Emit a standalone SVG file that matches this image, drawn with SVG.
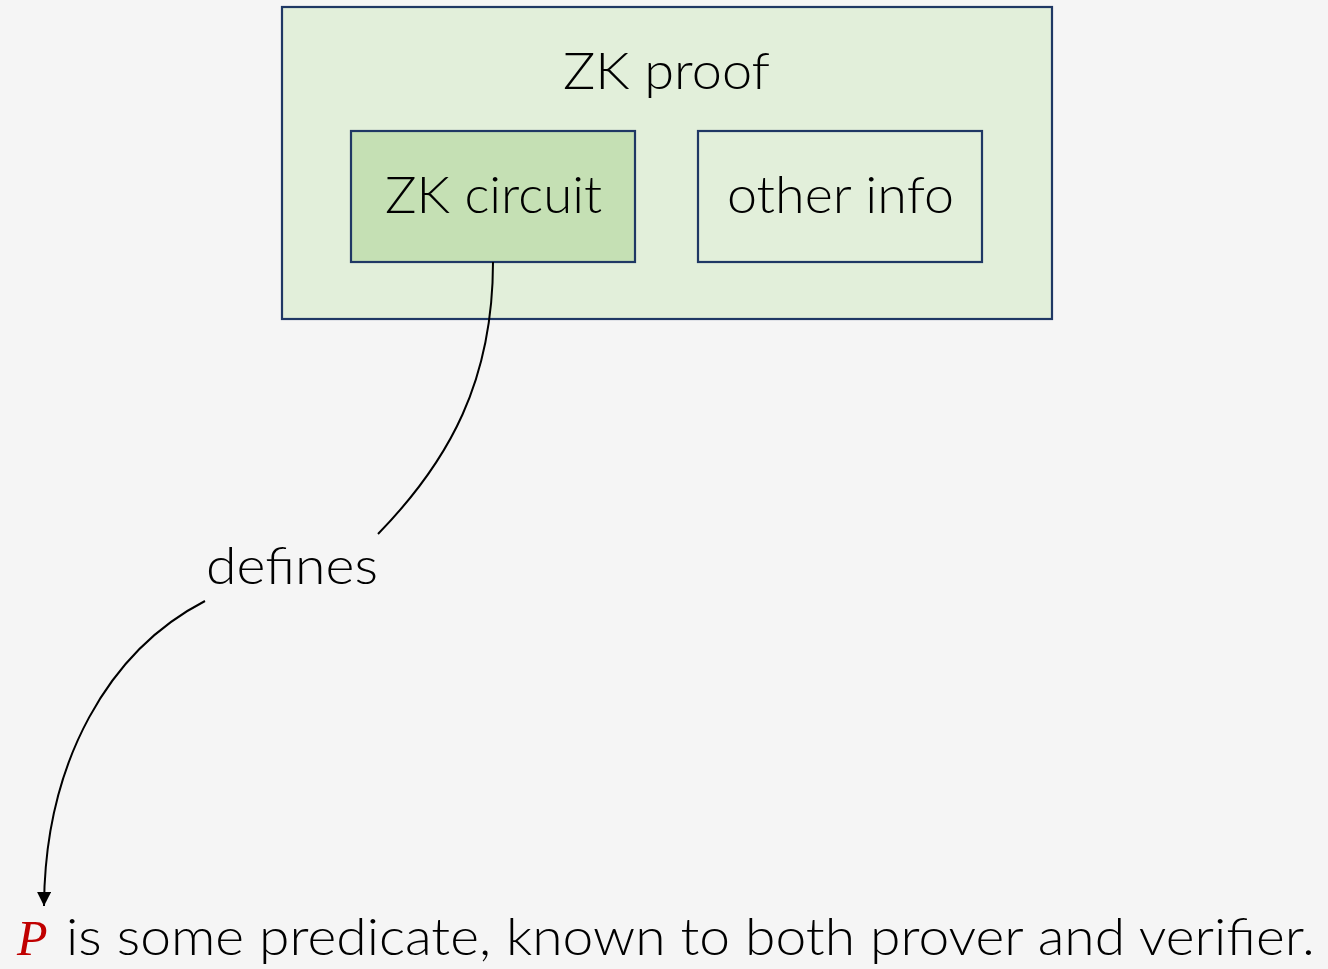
<svg xmlns="http://www.w3.org/2000/svg" width="1328" height="969" viewBox="0 0 1328 969">
  <defs>
    <style>
      .box { stroke: #1f3864; stroke-width: 2.2; }
      .outer { fill: #e2efda; }
      .circuit { fill: #c5e0b4; }
      .label { font-family: Lato, "Noto Sans", sans-serif; font-weight: 300; font-size: 52px; fill: #000; }
      .mid { text-anchor: middle; }
      .edge { fill: none; stroke: #000; stroke-width: 2; }
    </style>
    <marker id="head" viewBox="0 0 12 12" refX="12" refY="6" markerWidth="16" markerHeight="14" markerUnits="userSpaceOnUse" orient="auto">
      <path d="M0,0 L12,6 L0,12 Z" fill="#000"/>
    </marker>
  </defs>

  <rect width="1328" height="969" fill="#f5f5f5"/>

  <g id="zk-proof">
    <rect class="box outer" x="282" y="7" width="770" height="312"/>
    <text class="label" x="563" y="89" textLength="207" lengthAdjust="spacingAndGlyphs">ZK proof</text>
  </g>

  <g id="zk-circuit">
    <rect class="box circuit" x="351" y="131" width="284" height="131"/>
    <text class="label" x="385" y="213" textLength="217" lengthAdjust="spacingAndGlyphs">ZK circuit</text>
  </g>

  <g id="other-info">
    <rect class="box outer" x="698" y="131" width="284" height="131"/>
    <text class="label" x="727" y="213" textLength="227" lengthAdjust="spacingAndGlyphs">other info</text>
  </g>

  <g id="connectors">
    <path class="edge" d="M493,262 C493,380 450,460 378,534"/>
    <path class="edge" d="M205,601 C110,650 45,760 44,906" marker-end="url(#head)"/>
    <text class="label" x="206" y="584" textLength="172" lengthAdjust="spacingAndGlyphs">defines</text>
  </g>

  <g id="predicate">
    <text x="17" y="955" font-family="'Liberation Serif', serif" font-style="italic" font-size="50" fill="#c00000">P</text>
    <text class="label" x="66" y="955" textLength="1249" lengthAdjust="spacingAndGlyphs">is some predicate, known to both prover and verifier.</text>
  </g>
</svg>
